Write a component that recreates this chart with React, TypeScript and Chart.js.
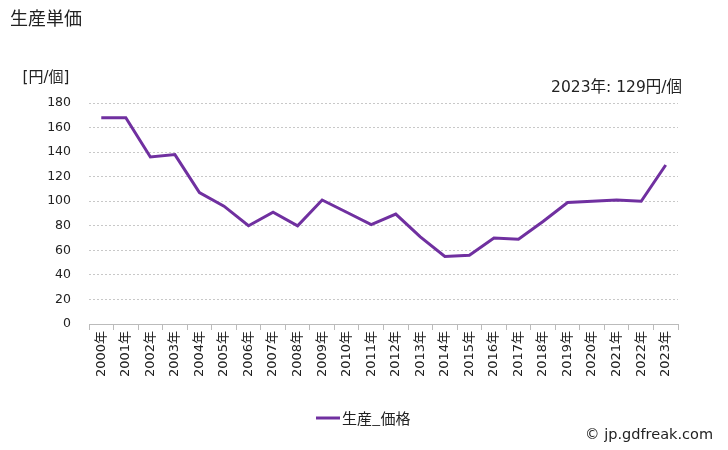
import React, { useEffect, useRef } from "react";
import { Chart, registerables } from "chart.js";

Chart.register(...registerables);

const categories = ["2000年","2001年","2002年","2003年","2004年","2005年","2006年","2007年","2008年","2009年","2010年","2011年","2012年","2013年","2014年","2015年","2016年","2017年","2018年","2019年","2020年","2021年","2022年","2023年"];
const priceValues = [168, 168, 136, 138, 107, 96, 80, 91, 80, 101, 91, 81, 89.5, 71, 55, 56, 70, 69, 83.5, 99, 100, 101, 100, 129.5];
const seriesName = "生産_価格";
const titleText = "生産単価";
const unitText = "[円/個]";
const noteText = "2023年: 129円/個";
const creditText = "© jp.gdfreak.com";

const FONT = "'DejaVu Sans', 'Noto Sans CJK JP', sans-serif";
const JFONT = "'Noto Sans CJK JP', 'DejaVu Sans', sans-serif";
const COLOR = "#7030a0";

export default function App() {
  const ref = useRef<HTMLCanvasElement | null>(null);
  useEffect(() => {
    if (!ref.current) return;
    const textPlugin = {
      id: "texts",
      afterDraw(chart: any) {
        const ctx = chart.ctx;
        ctx.save();
        ctx.fillStyle = "#222";
        ctx.textBaseline = "middle";
        ctx.font = `18px ${JFONT}`;
        ctx.textAlign = "left";
        ctx.fillText(titleText, 10, 18);
        ctx.font = `15px ${FONT}`;
        ctx.textAlign = "center";
        ctx.fillText(unitText, 46, 78);
        ctx.font = `15.5px ${FONT}`;
        ctx.textAlign = "right";
        ctx.fillText(noteText, 682, 88);
        // legend
        ctx.strokeStyle = COLOR;
        ctx.lineWidth = 3;
        ctx.beginPath();
        ctx.moveTo(316, 418);
        ctx.lineTo(340, 418);
        ctx.stroke();
        ctx.font = `15px ${JFONT}`;
        ctx.textAlign = "left";
        ctx.fillText(seriesName, 342, 418);
        ctx.font = `14.5px ${FONT}`;
        ctx.textAlign = "right";
        ctx.fillText(creditText, 713, 435);
        ctx.restore();
      },
    };
    const chart = new Chart(ref.current, {
      type: "line",
      data: {
        labels: categories,
        datasets: [
          {
            label: seriesName,
            data: priceValues,
            borderColor: COLOR,
            backgroundColor: COLOR,
            borderWidth: 3,
            pointRadius: 0,
            tension: 0,
            fill: false,
          },
        ],
      },
      options: {
        animation: false,
        responsive: false,
        maintainAspectRatio: false,
        layout: { padding: { top: 103, right: 50, left: 0, bottom: 0 } },
        plugins: { legend: { display: false }, title: { display: false }, tooltip: { enabled: false } },
        scales: {
          x: {
            type: "category",
            offset: true,
            grid: {
              display: true,
              drawOnChartArea: false,
              drawTicks: true,
              tickLength: 6,
              offset: true,
              color: "#bbb",
            },
            border: { display: true, color: "#bbb" },
            ticks: {
              maxRotation: 90,
              minRotation: 90,
              autoSkip: false,
              color: "#222",
              font: { family: FONT, size: 13 },
              padding: 1,
            },
            afterFit(scale: any) {
              scale.height = 126;
            },
          },
          y: {
            min: 0,
            max: 180,
            ticks: {
              stepSize: 20,
              color: "#222",
              font: { family: FONT, size: 12.5 },
              padding: 18,
            },
            grid: {
              color: "#c8c8c8",
              drawTicks: false,
            },
            border: { display: false, dash: [2, 2] },
            afterFit(scale: any) {
              scale.width = 89;
            },
          },
        },
      },
      plugins: [textPlugin],
    });
    return () => chart.destroy();
  }, []);
  return (
    <div style={{ position: "absolute", left: 0, top: 0, width: 728, height: 450, background: "#fff" }}>
      <canvas ref={ref} width={728} height={450} style={{ width: 728, height: 450 }} />
    </div>
  );
}
